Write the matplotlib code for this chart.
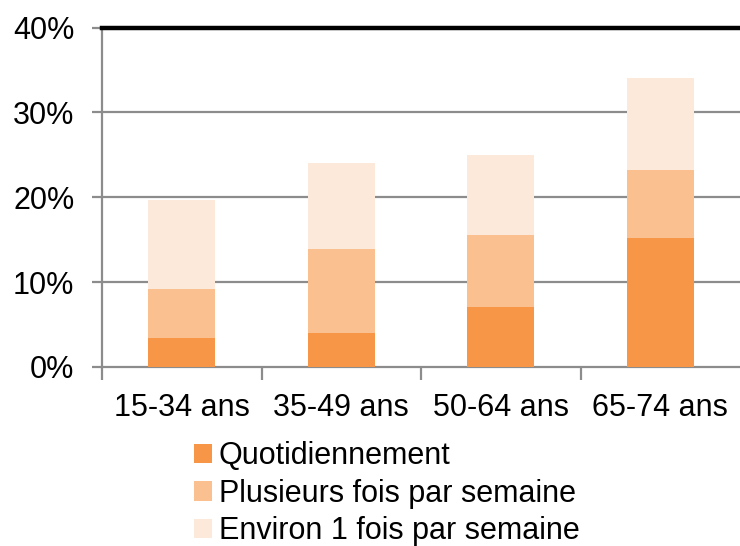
"""Stacked bars: frequency by age group."""

import matplotlib

matplotlib.use("Agg")
import matplotlib.pyplot as plt
from matplotlib.patches import Patch

plt.rcParams["font.family"] = ["Liberation Sans", "DejaVu Sans"]

AGE_GROUPS = ["15-34 ans", "35-49 ans", "50-64 ans", "65-74 ans"]
SERIES_NAMES = [
    "Quotidiennement",
    "Plusieurs fois par semaine",
    "Environ 1 fois par semaine",
]
QUOTIDIEN = [3.4, 4.0, 7.1, 15.2]
PLUSIEURS = [5.75, 9.9, 8.4, 8.0]
ENVIRON = [10.55, 10.1, 9.5, 10.9]
Y_TICKS = [0, 10, 20, 30, 40]

COLORS = ["#F79646", "#FAC090", "#FDE9D9"]
GRID_GREY = "#8C8C8C"


def main() -> None:
    fig = plt.figure(figsize=(7.4, 5.46), dpi=100)
    ax = fig.add_axes([0.138, 0.328, 0.862, 0.6216])

    positions = list(range(len(AGE_GROUPS)))
    bottom = [0.0] * len(AGE_GROUPS)
    for values, color in zip([QUOTIDIEN, PLUSIEURS, ENVIRON], COLORS):
        ax.bar(positions, values, width=0.42, bottom=bottom, color=color, zorder=3)
        bottom = [b + v for b, v in zip(bottom, values)]

    ax.set_xlim(-0.5, len(AGE_GROUPS) - 0.5)
    ax.set_ylim(0, 40)

    # gridlines, with the 40% line drawn heavy and black
    for y in Y_TICKS[1:-1]:
        ax.axhline(y, color=GRID_GREY, linewidth=1.6, zorder=1)
    ax.axhline(40, color="black", linewidth=3.2, zorder=4, clip_on=False)

    ax.set_yticks(Y_TICKS)
    ax.set_yticklabels([f"{t}%" for t in Y_TICKS], fontsize=22)
    ax.set_xticks(positions)
    ax.set_xticklabels(AGE_GROUPS, fontsize=22)
    ax.set_xticks([p - 0.5 for p in positions], minor=True)

    ax.tick_params(axis="y", direction="out", length=7, width=1.6, color=GRID_GREY, pad=13)
    ax.tick_params(axis="x", which="major", length=0, pad=19)
    ax.tick_params(axis="x", which="minor", direction="out", length=9, width=1.6, color=GRID_GREY)

    for side in ["top", "right"]:
        ax.spines[side].set_visible(False)
    for side in ["left", "bottom"]:
        ax.spines[side].set_color(GRID_GREY)
        ax.spines[side].set_linewidth(1.6)

    handles = [Patch(facecolor=c, edgecolor="none") for c in COLORS]
    fig.legend(
        handles,
        SERIES_NAMES,
        loc="upper left",
        bbox_to_anchor=(0.262, 0.192),
        frameon=False,
        fontsize=22,
        handlelength=0.6,
        handleheight=0.6,
        handletextpad=0.22,
        labelspacing=0.25,
        borderpad=0,
        borderaxespad=0,
    )

    fig.savefig("out.png", dpi=100)
    plt.close(fig)


if __name__ == "__main__":
    main()
